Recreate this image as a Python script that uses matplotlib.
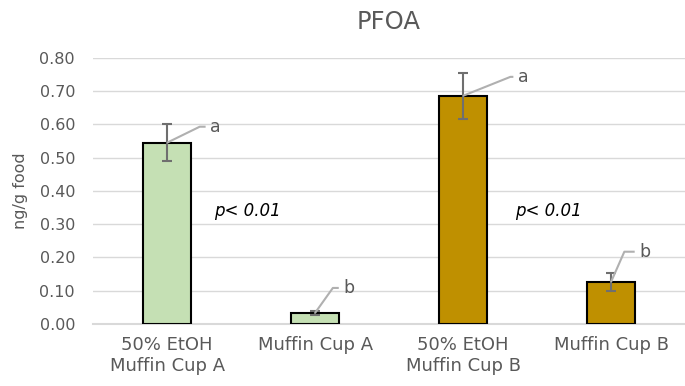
import matplotlib
matplotlib.use("Agg")
import matplotlib.pyplot as plt

plt.rcParams['font.family'] = ['DejaVu Sans']

categories = ["50% EtOH\nMuffin Cup A", "Muffin Cup A", "50% EtOH\nMuffin Cup B", "Muffin Cup B"]
values = [0.545, 0.033, 0.686, 0.126]
errors = [0.055, 0.005, 0.070, 0.027]
colors = ["#C5E0B4", "#C5E0B4", "#BF9000", "#BF9000"]
letters = ["a", "b", "a", "b"]
letter_y = [0.593, 0.108, 0.743, 0.217]
p_text = ["p< 0.01", "p< 0.01"]
p_x = [0.54, 2.58]
p_y = [0.34, 0.34]

grey = "#595959"

fig = plt.figure(figsize=(6.85, 3.86), dpi=100)
ax = fig.add_axes([0.136, 0.161, 0.864, 0.689])

x = list(range(len(categories)))
ax.bar(x, values, width=0.32, color=colors, edgecolor="black", linewidth=1.5, zorder=3)
ax.errorbar(x, values, yerr=errors, fmt="none", ecolor="#6f6f6f", elinewidth=1.5,
            capsize=3.5, capthick=1.5, zorder=4)

# leader lines to the letters
elbow_dx = [0.22, 0.12, 0.32, 0.09]
end_dx = [0.26, 0.16, 0.34, 0.16]
for i in x:
    ax.plot([i, i + elbow_dx[i], i + end_dx[i]], [values[i], letter_y[i], letter_y[i]],
            color="#b0b0b0", lw=1.5, zorder=5, solid_capstyle="butt")
    ax.text(i + end_dx[i] + 0.03, letter_y[i], letters[i], color=grey, fontsize=12.5,
            va="center", ha="left", zorder=6)

for t, px, py in zip(p_text, p_x, p_y):
    ax.text(px, py, t, style="italic", fontsize=12, ha="center", va="center", color="black")

ax.set_xlim(-0.5, 3.5)
ax.set_ylim(0, 0.8)
ax.set_yticks([i / 10 for i in range(9)])
ax.set_yticklabels(["%.2f" % (i / 10) for i in range(9)])
ax.set_xticks(x)
ax.set_xticklabels(categories, fontsize=13)
ax.tick_params(axis="both", length=0, colors=grey)
ax.tick_params(axis="x", pad=9)
ax.tick_params(axis="y", labelsize=11.5, pad=13)
ax.grid(axis="y", color="#d9d9d9", lw=1, zorder=0)
for s in ["top", "right", "left"]:
    ax.spines[s].set_visible(False)
ax.spines["bottom"].set_color("#d9d9d9")
ax.spines["bottom"].set_linewidth(1.5)

ax.set_ylabel("ng/g food", fontsize=11.5, color=grey, labelpad=8)
ax.set_title("PFOA", fontsize=17.5, color=grey, pad=21)

fig.savefig("out.png", dpi=100)
